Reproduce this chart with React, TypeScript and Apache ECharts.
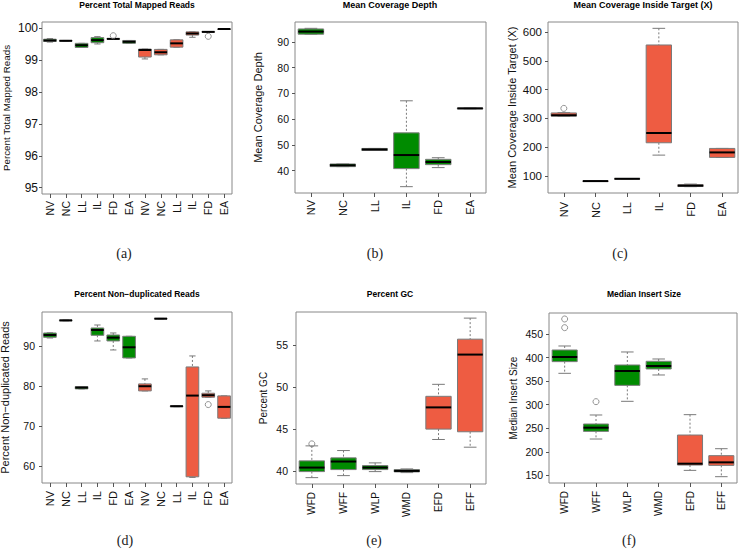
import React, { useEffect, useRef } from 'react';
import * as echarts from 'echarts';

// ---------- data ----------
const catsSample = ['NV', 'NC', 'LL', 'IL', 'FD', 'EA'];
const catsSample2 = ['NV', 'NC', 'LL', 'IL', 'FD', 'EA', 'NV', 'NC', 'LL', 'IL', 'FD', 'EA'];
const catsGC = ['WFD', 'WFF', 'WLP', 'WMD', 'EFD', 'EFF'];

// stats: [min, q1, median, q3, max]
const mappedStats = [
  [99.57, 99.59, 99.62, 99.66, 99.68],
  [99.60, 99.60, 99.61, 99.62, 99.62],
  [99.40, 99.40, 99.47, 99.53, 99.53],
  [99.51, 99.55, 99.63, 99.71, 99.74],
  [99.66, 99.66, 99.67, 99.68, 99.68],
  [99.53, 99.53, 99.58, 99.62, 99.62],
  [99.04, 99.10, 99.32, 99.35, 99.35],
  [99.17, 99.17, 99.25, 99.34, 99.34],
  [99.41, 99.41, 99.53, 99.64, 99.64],
  [99.72, 99.79, 99.84, 99.89, 99.89],
  [99.88, 99.88, 99.89, 99.90, 99.90],
  [99.97, 99.97, 99.98, 99.98, 99.98],
];
const mappedOutliers = [[4, 99.77], [10, 99.75]];
const mappedTicks = [95, 96, 97, 98, 99, 100];

const depthStats = [
  [92.96, 92.96, 93.98, 95.0, 95.24],
  [41.54, 41.54, 42.06, 42.57, 42.57],
  [47.8, 47.8, 48.2, 48.6, 48.6],
  [33.76, 40.77, 46.04, 54.65, 67.1],
  [41.16, 42.31, 43.34, 44.37, 45.0],
  [64.0, 64.0, 64.15, 64.3, 64.3],
];
const depthOutliers: number[][] = [];
const depthTicks = [40, 50, 60, 70, 80, 90];

const targetStats = [
  [308, 308, 311, 319, 320],
  [80.8, 80.8, 81.4, 82.0, 82.0],
  [89, 89, 89.5, 90, 90],
  [172, 215, 249, 556, 614],
  [62, 62.5, 65.5, 69, 71],
  [164, 164, 181.4, 195.3, 195.3],
];
const targetOutliers = [[0, 334.9]];
const targetTicks = [100, 200, 300, 400, 500, 600];

const nondupStats = [
  [92.0, 92.17, 92.75, 93.25, 93.3],
  [96.3, 96.3, 96.4, 96.5, 96.5],
  [79.25, 79.25, 79.58, 79.83, 79.83],
  [91.25, 92.67, 94.0, 94.5, 95.25],
  [89.0, 91.25, 92.08, 92.75, 93.25],
  [87.0, 87.0, 89.67, 92.42, 92.42],
  [78.75, 78.75, 79.92, 80.5, 81.75],
  [96.75, 96.75, 96.83, 96.9, 96.9],
  [74.8, 74.8, 74.92, 75.0, 75.0],
  [57.1, 57.25, 77.58, 84.75, 87.5],
  [77.17, 77.17, 77.67, 78.17, 78.75],
  [71.92, 71.92, 74.75, 77.5, 77.5],
];
const nondupOutliers = [[10, 75.33]];
const nondupTicks = [60, 70, 80, 90];

const gcStats = [
  [39.2, 39.92, 40.4, 41.2, 42.99],
  [39.44, 40.16, 41.12, 41.56, 42.43],
  [39.92, 40.16, 40.4, 40.64, 40.96],
  [39.8, 39.88, 40.0, 40.16, 40.24],
  [43.75, 44.99, 47.58, 48.9, 50.33],
  [42.83, 44.67, 53.88, 55.72, 58.23],
];
const gcOutliers = [[0, 43.23]];
const gcTicks = [40, 45, 50, 55];

const insertStats = [
  [366.5, 391.3, 401.2, 416.0, 424.5],
  [227.1, 243.4, 251.2, 258.96, 278.1],
  [307.1, 341.0, 371.5, 384.2, 411.8],
  [363.0, 375.7, 382.1, 392.0, 396.9],
  [160.6, 171.9, 174.8, 235.6, 278.8],
  [147.2, 171.2, 177.6, 191.8, 206.6],
];
const insertOutliers = [[0, 463.4], [0, 481.8], [1, 306.4]];
const insertTicks = [150, 200, 250, 300, 350, 400, 450];

const titles = [
  'Percent Total Mapped Reads',
  'Mean Coverage Depth',
  'Mean Coverage Inside Target (X)',
  'Percent Non\u2212duplicated Reads',
  'Percent GC',
  'Median Insert Size',
];
const yNames = [
  'Percent Total Mapped Reads',
  'Mean Coverage Depth',
  'Mean Coverage Inside Target (X)',
  'Percent Non\u2212duplicated Reads',
  'Percent GC',
  'Median Insert Size',
];
const captions = ['(a)', '(b)', '(c)', '(d)', '(e)', '(f)'];

// ---------- layout / style ----------
const GREEN = '#008B00';
const RED = '#EE5C42';
const GREY = '#7a7a7a';
const SANS = '"Liberation Sans", Arial, Helvetica, sans-serif';
const SERIF = '"Liberation Serif", "DejaVu Serif", serif';

const panels = [
  { cats: catsSample2, stats: mappedStats, out: mappedOutliers, ticks: mappedTicks, green: (j: number) => j < 6,
    grid: { left: 42, top: 22, width: 190, height: 172 }, min: 94.8, max: 100.2,
    yFont: 12, xFont: 10.5, yMargin: 4, xMargin: 7, titleX: 137, titleY: 5, titleFont: 8.5,
    nameX: 6, nameFont: 9.8, capX: 124, capY: 253 },
  { cats: catsSample, stats: depthStats, out: depthOutliers, ticks: depthTicks, green: (_j: number) => true,
    grid: { left: 295, top: 22, width: 191, height: 171 }, min: 31.3, max: 97.7,
    yFont: 10.5, xFont: 11, yMargin: 6, xMargin: 7, titleX: 390, titleY: 5, titleFont: 9,
    nameX: 258, nameFont: 11, capX: 375, capY: 253 },
  { cats: catsSample, stats: targetStats, out: targetOutliers, ticks: targetTicks, green: (_j: number) => false,
    grid: { left: 548, top: 22, width: 190, height: 171 }, min: 39.9, max: 636.1,
    yFont: 11.5, xFont: 11, yMargin: 6, xMargin: 9, titleX: 643, titleY: 5, titleFont: 9,
    nameX: 512, nameFont: 11, capX: 620, capY: 253 },
  { cats: catsSample2, stats: nondupStats, out: nondupOutliers, ticks: nondupTicks, green: (j: number) => j < 6,
    grid: { left: 42, top: 312, width: 190, height: 171 }, min: 55.7, max: 98.5,
    yFont: 10.5, xFont: 11, yMargin: 7, xMargin: 8, titleX: 137, titleY: 294, titleFont: 8.5,
    nameX: 5, nameFont: 11, capX: 125, capY: 540 },
  { cats: catsGC, stats: gcStats, out: gcOutliers, ticks: gcTicks, green: (j: number) => j < 4,
    grid: { left: 296, top: 312, width: 190, height: 172 }, min: 38.44, max: 58.96,
    yFont: 10.5, xFont: 10, yMargin: 8, xMargin: 8, titleX: 390, titleY: 294, titleFont: 8.5,
    nameX: 263, nameFont: 10, capX: 374, capY: 540 },
  { cats: catsGC, stats: insertStats, out: insertOutliers, ticks: insertTicks, green: (j: number) => j < 4,
    grid: { left: 549, top: 313, width: 188, height: 170 }, min: 133.8, max: 494.5,
    yFont: 10.5, xFont: 10, yMargin: 6, xMargin: 8, titleX: 644, titleY: 294, titleFont: 8.5,
    nameX: 513, nameFont: 10, capX: 629, capY: 540 },
];

function makeRender(isGreen: (j: number) => boolean) {
  return (_params: any, api: any) => {
    const j = api.value(0);
    const lo = api.coord([j, api.value(1)]);
    const q1 = api.coord([j, api.value(2)]);
    const md = api.coord([j, api.value(3)]);
    const q3 = api.coord([j, api.value(4)]);
    const hi = api.coord([j, api.value(5)]);
    const band = api.size([1, 0])[0];
    const w = band * 0.8;
    const cap = w * 0.25;
    const cx = md[0];
    const fill = isGreen(j) ? GREEN : RED;
    const whisk = { stroke: GREY, lineWidth: 1, lineDash: [2, 2] };
    const solid = { stroke: GREY, lineWidth: 1 };
    return {
      type: 'group',
      children: [
        { type: 'line', shape: { x1: cx, y1: hi[1], x2: cx, y2: q3[1] }, style: whisk },
        { type: 'line', shape: { x1: cx, y1: q1[1], x2: cx, y2: lo[1] }, style: whisk },
        { type: 'line', shape: { x1: cx - cap, y1: hi[1], x2: cx + cap, y2: hi[1] }, style: solid },
        { type: 'line', shape: { x1: cx - cap, y1: lo[1], x2: cx + cap, y2: lo[1] }, style: solid },
        { type: 'rect', shape: { x: cx - w / 2, y: q3[1], width: w, height: Math.max(q1[1] - q3[1], 0.5) },
          style: { fill, stroke: GREY, lineWidth: 1 } },
        { type: 'line', shape: { x1: cx - w / 2, y1: md[1], x2: cx + w / 2, y2: md[1] },
          style: { stroke: '#000', lineWidth: 2 } },
      ],
    };
  };
}

function buildOption() {
  const grid: any[] = [];
  const xAxis: any[] = [];
  const yAxis: any[] = [];
  const series: any[] = [];
  const graphic: any[] = [];

  panels.forEach((p, i) => {
    grid.push({ ...p.grid, show: true, borderColor: '#888', borderWidth: 1, backgroundColor: 'transparent' });
    xAxis.push({
      type: 'category', gridIndex: i, data: p.cats, boundaryGap: true,
      axisLine: { show: false },
      axisTick: { show: true, alignWithLabel: true, length: 4, lineStyle: { color: '#555' } },
      axisLabel: { rotate: 90, interval: 0, fontSize: p.xFont, fontFamily: SANS, color: '#111', margin: p.xMargin },
      splitLine: { show: false },
    });
    yAxis.push({
      type: 'value', gridIndex: i, min: p.min, max: p.max,
      axisLine: { show: false },
      axisTick: { show: true, length: 3, customValues: p.ticks, lineStyle: { color: '#555' } },
      axisLabel: { customValues: p.ticks, fontSize: p.yFont, fontFamily: SANS, color: '#111', margin: p.yMargin },
      splitLine: { show: false },
    });
    series.push({
      type: 'custom', xAxisIndex: i, yAxisIndex: i,
      renderItem: makeRender(p.green),
      encode: { x: 0, y: [1, 2, 3, 4, 5] },
      data: p.stats.map((s, j) => [j, ...s]),
    });
    if (p.out.length) {
      series.push({
        type: 'scatter', xAxisIndex: i, yAxisIndex: i, data: p.out,
        symbol: 'circle', symbolSize: 6,
        itemStyle: { color: 'rgba(255,255,255,0)', borderColor: GREY, borderWidth: 1 },
      });
    }
    graphic.push({
      type: 'text', x: p.titleX, y: p.titleY,
      style: { text: titles[i], align: 'center', verticalAlign: 'middle', fill: '#000',
        font: `bold ${p.titleFont}px ${SANS}` },
    });
    const cy = p.grid.top + p.grid.height / 2;
    graphic.push({
      type: 'text', x: p.nameX, y: cy, rotation: Math.PI / 2,
      style: { text: yNames[i], align: 'center', verticalAlign: 'middle', fill: '#111',
        font: `${p.nameFont}px ${SANS}` },
    });
    graphic.push({
      type: 'text', x: p.capX, y: p.capY,
      style: { text: captions[i], align: 'center', verticalAlign: 'middle', fill: '#222',
        font: `14px ${SERIF}` },
    });
  });

  return { animation: false, backgroundColor: '#fff', grid, xAxis, yAxis, series, graphic };
}

export default function App() {
  const ref = useRef<HTMLDivElement>(null);
  useEffect(() => {
    if (!ref.current) return;
    const chart = echarts.init(ref.current, undefined, { renderer: 'svg' });
    chart.setOption(buildOption() as any);
    return () => chart.dispose();
  }, []);
  return (
    <div
      ref={ref}
      style={{ position: 'absolute', left: 0, top: 0, width: 739, height: 550, background: '#fff' }}
    />
  );
}
